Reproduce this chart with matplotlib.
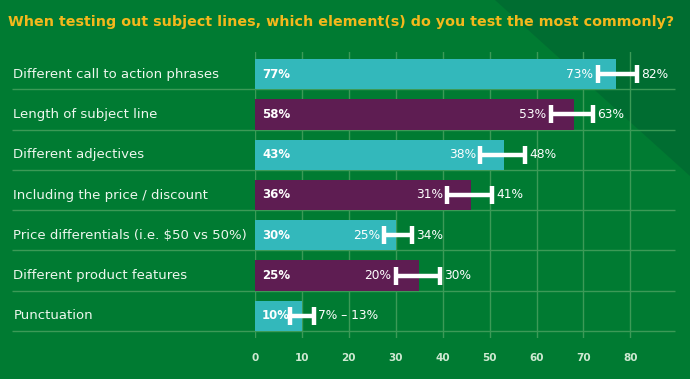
import matplotlib
matplotlib.use("Agg")
import matplotlib.pyplot as plt
from matplotlib.patches import Polygon

# Data
categories = [
    "Different call to action phrases",
    "Length of subject line",
    "Different adjectives",
    "Including the price / discount",
    "Price differentials (i.e. $50 vs 50%)",
    "Different product features",
    "Punctuation",
]
bar_values = [77, 68, 53, 46, 30, 35, 10]
err_low = [73, 63, 48, 41, 27.5, 30, 7.5]
err_high = [81.5, 72, 57.5, 50.5, 33.5, 39.5, 12.5]
value_labels = ["77%", "58%", "43%", "36%", "30%", "25%", "10%"]
low_labels = ["73%", "53%", "38%", "31%", "25%", "20%", ""]
high_labels = ["82%", "63%", "48%", "41%", "34%", "30%", "7% \u2013 13%"]
x_ticks = [0, 10, 20, 30, 40, 50, 60, 70, 80]

BG = "#007b32"
DARK = "#006d31"
CYAN = "#33b8bb"
PURPLE = "#5e1d52"
GRID = "#3c9a57"
TXT = "#eef7ee"
TITLE = "#f4b81c"

fig = plt.figure(figsize=(6.9, 3.79), dpi=100)
fig.patch.set_facecolor(BG)

# darker diagonal corner in the top right (background only)
fig.patches.append(Polygon([(495 / 690, 1), (1, 1), (1, 1 - 176 / 379)],
                           closed=True, transform=fig.transFigure,
                           facecolor=DARK, edgecolor="none", zorder=-10))

fig.text(8 / 690, 1 - 22 / 379,
         "When testing out subject lines, which element(s) do you test the most commonly?",
         color=TITLE, fontsize=10.3, fontweight="bold", ha="left", va="center")

ax = fig.add_axes([255 / 690, 41 / 379, 420 / 690, 286 / 379])
ax.set_zorder(1)
ax.set_facecolor("none")
ax.set_xlim(0, 89.5)
ax.set_ylim(6.55, -0.55)

ypos = list(range(len(categories)))
colors = [CYAN if i % 2 == 0 else PURPLE for i in ypos]

# grid
for x in x_ticks:
    ax.axvline(x, color=GRID, lw=1, zorder=0)
ax.hlines([y + 0.375 for y in ypos], -51.8, 89.5, color=GRID, lw=1,
          zorder=0, clip_on=False)

ax.barh(ypos, bar_values, height=0.75, color=colors, zorder=2)

mids = [(lo + hi) / 2 for lo, hi in zip(err_low, err_high)]
halves = [(hi - lo) / 2 for lo, hi in zip(err_low, err_high)]
ax.errorbar(mids, ypos, xerr=halves, fmt="none", ecolor="white",
            elinewidth=3.2, capsize=6.5, capthick=3.2, zorder=4)

for y, cat, v, lo_t, hi_t, lo, hi in zip(ypos, categories, value_labels,
                                         low_labels, high_labels,
                                         err_low, err_high):
    ax.text(-51.5, y, cat, color=TXT, fontsize=9.5, ha="left", va="center")
    ax.annotate(v, (0, y), xytext=(5, 0), textcoords="offset points",
                color="white", fontsize=8.5, fontweight="bold",
                ha="left", va="center", zorder=5)
    if lo_t:
        ax.annotate(lo_t, (lo, y), xytext=(-3, 0), textcoords="offset points",
                    color="white", fontsize=8.8, ha="right", va="center",
                    zorder=5)
    ax.annotate(hi_t, (hi, y), xytext=(3, 0), textcoords="offset points",
                color="white", fontsize=8.8, ha="left", va="center", zorder=5)

ax.set_xticks(x_ticks)
ax.set_xticklabels([str(t) for t in x_ticks])
ax.set_yticks([])
ax.tick_params(axis="x", length=0, pad=11, labelsize=7.5, labelcolor="#cfe9d2")
for lab in ax.get_xticklabels():
    lab.set_fontweight("bold")
for s in ax.spines.values():
    s.set_visible(False)

fig.savefig("out.png", dpi=100, facecolor=BG)
